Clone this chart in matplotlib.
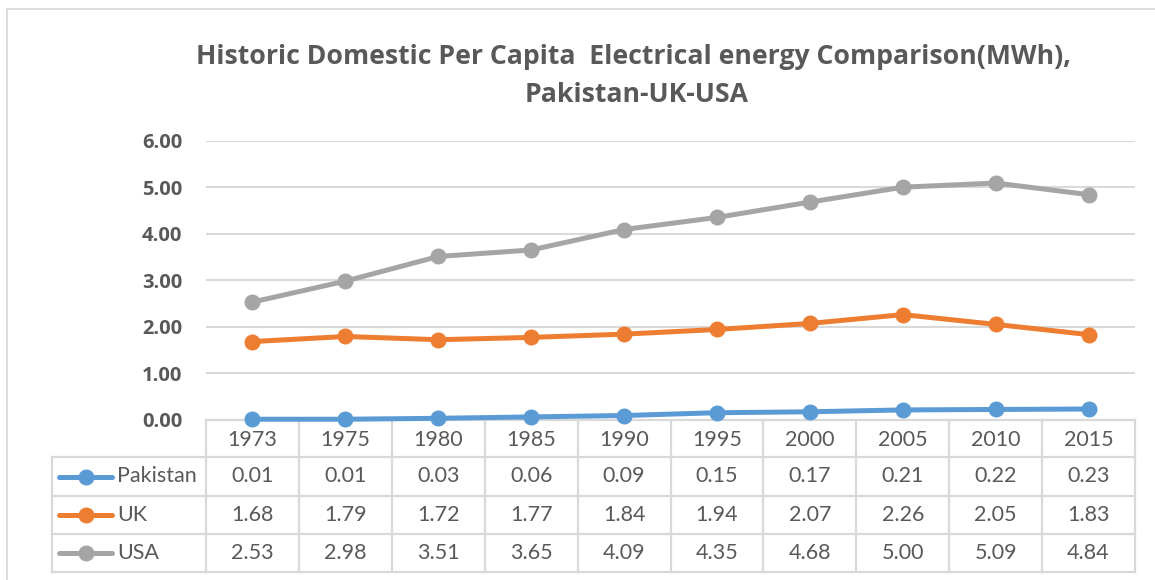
import matplotlib
matplotlib.use("Agg")
import matplotlib.pyplot as plt
from matplotlib.transforms import blended_transform_factory
from matplotlib.lines import Line2D
from matplotlib.patches import Rectangle

plt.rcParams['font.family'] = ['Lato', 'DejaVu Sans']

years = ["1973", "1975", "1980", "1985", "1990", "1995", "2000", "2005", "2010", "2015"]
series_names = ["Pakistan", "UK", "USA"]
pakistan = [0.01, 0.01, 0.03, 0.06, 0.09, 0.15, 0.17, 0.21, 0.22, 0.23]
uk = [1.68, 1.79, 1.72, 1.77, 1.84, 1.94, 2.07, 2.26, 2.05, 1.83]
usa = [2.53, 2.98, 3.51, 3.65, 4.09, 4.35, 4.68, 5.00, 5.09, 4.84]
colors = ["#5B9BD5", "#ED7D31", "#A5A5A5"]
yticks = [0, 1, 2, 3, 4, 5, 6]
title = "Historic Domestic Per Capita  Electrical energy Comparison(MWh),\nPakistan-UK-USA"

TXT = "#595959"
GRID = "#D9D9D9"
W, H = 1155, 580
fig = plt.figure(figsize=(W / 100, H / 100), dpi=100)

# chart border
fig.patches.append(Rectangle((7 / W, -0.1), 1.2, (H - 9) / H + 0.1, transform=fig.transFigure,
                             fill=False, edgecolor=GRID, linewidth=1.3))

ax_l, ax_r, ax_t, ax_b = 206, 1135, 140.7, 419.7
ax = fig.add_axes([ax_l / W, (H - ax_b) / H, (ax_r - ax_l) / W, (ax_b - ax_t) / H])
ax.set_xlim(-0.5, len(years) - 0.5)
ax.set_ylim(0, 6)
for s in ax.spines.values():
    s.set_visible(False)
ax.set_yticks(yticks)
ax.set_yticklabels([f"{v:.2f}" for v in yticks], fontsize=14.5, fontweight='bold', color=TXT,
                   family=['Open Sans', 'DejaVu Sans'])
ax.tick_params(axis='y', length=0, pad=17)
ax.set_xticks([])
ax.grid(axis='y', color=GRID, linewidth=1.5)
ax.set_axisbelow(True)

data = [pakistan, uk, usa]
x = list(range(len(years)))
for vals, c in zip(data, colors):
    ax.plot(x, vals, color=c, linewidth=3.6, marker='o', markersize=10.5,
            clip_on=False, zorder=3, solid_capstyle='round')

fig.text(634 / W, 1 - 57 / H, title.split("\n")[0], ha='center', va='center', fontsize=19.2,
         fontweight='bold', color=TXT, family=['Open Sans', 'DejaVu Sans'])
fig.text(637 / W, 1 - 95 / H, title.split("\n")[1], ha='center', va='center', fontsize=19.2,
         fontweight='bold', color=TXT, family=['Open Sans', 'DejaVu Sans'])

# data table
colw = (ax_r - ax_l) / len(years)
def pxx(px):
    return -0.5 + (px - ax_l) / colw
def pyy(py):
    return (ax_b - py) / (ax_b - ax_t)

tr = blended_transform_factory(ax.transData, ax.transAxes)
rows_y = [420, 457, 496, 534, 572]
left_x = 52
lkw = dict(color=GRID, linewidth=1.6, transform=tr, clip_on=False)
# horizontal lines
ax.add_line(Line2D([-0.5, len(years) - 0.5], [pyy(rows_y[0])] * 2, **lkw))
for ry in rows_y[1:]:
    ax.add_line(Line2D([pxx(left_x), len(years) - 0.5], [pyy(ry)] * 2, **lkw))
# vertical lines
for i in range(len(years) + 1):
    ax.add_line(Line2D([i - 0.5, i - 0.5], [pyy(rows_y[0]), pyy(rows_y[-1])], **lkw))
ax.add_line(Line2D([pxx(left_x)] * 2, [pyy(rows_y[1]), pyy(rows_y[-1])], **lkw))

fs_tab = 15.5
for i, yr in enumerate(years):
    ax.text(i, pyy((rows_y[0] + rows_y[1]) / 2 + 1), yr, transform=tr, ha='center', va='center',
            fontsize=fs_tab, color=TXT)
for r, (name, vals, c) in enumerate(zip(series_names, data, colors)):
    yc = pyy((rows_y[r + 1] + rows_y[r + 2]) / 2)
    for i, v in enumerate(vals):
        ax.text(i, yc, f"{v:.2f}", transform=tr, ha='center', va='center',
                fontsize=fs_tab, color=TXT)
    ax.add_line(Line2D([pxx(59), pxx(112)], [yc, yc], color=c, linewidth=3.6,
                       transform=tr, clip_on=False, solid_capstyle='round'))
    ax.add_line(Line2D([pxx(86)], [yc], color=c, marker='o', markersize=10.5,
                       transform=tr, clip_on=False))
    ax.text(pxx(117), yc, name, transform=tr, ha='left', va='center',
            fontsize=fs_tab, color=TXT)

fig.savefig("out.png", dpi=100, facecolor='white')
